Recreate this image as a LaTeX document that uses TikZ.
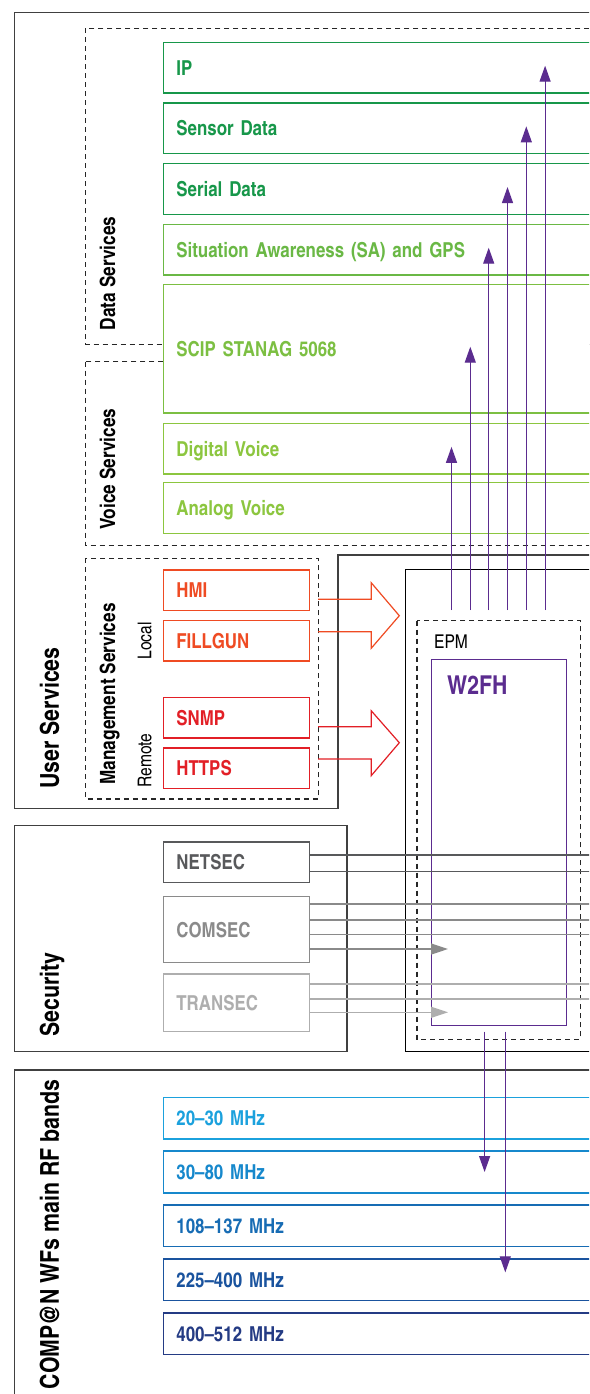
\documentclass[tikz,border=0pt]{standalone}
\usepackage{fontspec}
\setmainfont{texgyreheroscn}[Extension=.otf,UprightFont=*-regular,BoldFont=*-bold]
\usetikzlibrary{arrows.meta,calc}
\definecolor{cOut}{HTML}{404040}
\definecolor{cG1}{HTML}{17974A}
\definecolor{cG2}{HTML}{6AB845}
\definecolor{cG3}{HTML}{7CBF42}
\definecolor{cG4}{HTML}{8CC63F}
\definecolor{cPur}{HTML}{5B2C8F}
\definecolor{cLoc}{HTML}{EF4B23}
\definecolor{cRem}{HTML}{E21F26}
\definecolor{cB1}{HTML}{1BA1DD}
\definecolor{cB2}{HTML}{1688CC}
\definecolor{cB3}{HTML}{176CB4}
\definecolor{cB4}{HTML}{1A539E}
\definecolor{cB5}{HTML}{243B84}
\definecolor{cNet}{HTML}{58595B}
\definecolor{cCom}{HTML}{8A8A8A}
\definecolor{cTra}{HTML}{AEAEAE}
\tikzset{
  outer/.style={draw=cOut, line width=1.5pt},
  dashbox/.style={draw=black!85, line width=1.2pt, dash pattern=on 5pt off 4pt},
  sbox/.style={draw=#1, text=#1, fill=white, line width=1.4pt, anchor=north west,
    align=left, text width=430pt, inner xsep=13pt, inner ysep=0pt,
    text height=15pt, text depth=0pt, font=\bfseries\fontsize{20.6}{24}\selectfont},
  narrow/.style={text width=120.1pt},
  vlbl/.style={rotate=90, inner sep=0pt, text height=15pt, text depth=0pt,
    font=\bfseries\fontsize{21}{24}\selectfont},
  biglbl/.style={rotate=90, inner sep=0pt, text height=18.7pt, text depth=0pt,
    font=\bfseries\fontsize{26}{30}\selectfont},
  smlbl/.style={rotate=90, inner sep=0pt, text height=13.6pt, text depth=0pt,
    font=\fontsize{19}{22}\selectfont},
  parrow/.style={draw=cPur, line width=1.2pt, -{Triangle[length=16pt,width=11pt]}},
  blockarrow/.style={draw=#1, line width=1.2pt},
  secline/.style={draw=#1, line width=1.3pt},
  secarrow/.style={draw=#1, line width=1.3pt, -{Triangle[length=17pt,width=11pt]}},
}
\begin{document}
\begin{tikzpicture}[x=1pt,y=-1pt]
\useasboundingbox (0,0) rectangle (589,1394);
\fill[white] (0,0) rectangle (589,1394);
\clip (0,0) rectangle (589,1394);

% outer frames
\draw[outer] (14.3,12.7) -- (620,12.7) -- (620,555) -- (338.1,555) -- (338.1,808.3) -- (14.3,808.3) -- cycle;
\draw[outer] (14.3,825.7) rectangle (347.1,1051.7);
\draw[outer] (14.3,1070) rectangle (620,1420);
\draw[draw=black, line width=1.2pt] (405.7,569.3) rectangle (620,1051.7);

% dashed groups
\draw[dashbox] (85.6,28.3) rectangle (620,344.3);
\draw[dashbox] (85.6,361.7) rectangle (620,545.7);
\draw[dashbox] (85.6,558.3) rectangle (318.2,799);
\draw[dashbox] (417,620.7) rectangle (580.4,1039.3);

% service boxes
\node[sbox=cG1, minimum height=50.6pt] (ip) at (162.7,41.7) {IP};
\node[sbox=cG1, minimum height=50.7pt] (sensor) at (162.7,102.3) {Sensor Data};
\node[sbox=cG1, minimum height=50.7pt] (serial) at (162.7,163) {Serial Data};
\node[sbox=cG2, minimum height=50.6pt] (sa) at (162.7,223.7) {Situation Awareness (SA) and GPS};
\node[sbox=cG3, minimum height=128.6pt] (scip) at (162.7,283.7) {SCIP STANAG 5068};
\node[sbox=cG4, minimum height=50.3pt] (dv) at (162.7,423) {Digital Voice};
\node[sbox=cG4, minimum height=50.7pt] (av) at (162.7,482) {Analog Voice};

\node[sbox=cLoc, narrow, minimum height=40.7pt] (hmi) at (162.7,569.3) {HMI};
\node[sbox=cLoc, narrow, minimum height=40.3pt] (fillgun) at (162.7,620) {FILLGUN};
\node[sbox=cRem, narrow, minimum height=40.6pt] (snmp) at (162.7,696.7) {SNMP};
\node[sbox=cRem, narrow, minimum height=40.4pt] (https) at (162.7,747.3) {HTTPS};

\node[sbox=cNet, narrow, minimum height=40.4pt] (netsec) at (162.7,841.3) {NETSEC};
\node[sbox=cCom, narrow, minimum height=65.7pt] (comsec) at (162.7,896) {COMSEC};
\node[sbox=cTra, narrow, minimum height=57.4pt] (transec) at (162.7,973.3) {TRANSEC};

\node[sbox=cB1, minimum height=41.6pt] (b1) at (162.7,1096.7) {20--30 MHz};
\node[sbox=cB2, minimum height=42pt] (b2) at (162.7,1150.3) {30--80 MHz};
\node[sbox=cB3, minimum height=41.7pt] (b3) at (162.7,1204.3) {108--137 MHz};
\node[sbox=cB4, minimum height=41.7pt] (b4) at (162.7,1258.3) {225--400 MHz};
\node[sbox=cB5, minimum height=41.7pt] (b5) at (162.7,1312.3) {400--512 MHz};

% W2FH block
\node[draw=cPur, line width=1.3pt, anchor=north west, minimum width=135.2pt, minimum height=366pt, inner sep=0pt] (w2fh) at (430.9,659) {};
\node[anchor=west, inner sep=0pt, text height=13.6pt, text depth=0pt, font=\fontsize{19}{22}\selectfont] (epm) at (434,641.7) {EPM};
\node[anchor=west, inner sep=0pt, text height=18.7pt, text depth=0pt, text=cPur, font=\bfseries\fontsize{26}{30}\selectfont] (w2fhlbl) at (447,685.4) {W2FH};

% rotated labels
\node[vlbl] (dslbl) at (107.5,273.5) {Data Services};
\node[vlbl] (vslbl) at (107.5,469.3) {Voice Services};
\node[vlbl] (mslbl) at (107.5,694) {Management Services};
\node[smlbl] (loclbl) at (144.5,641) {Local};
\node[smlbl] (remlbl) at (144.5,760.5) {Remote};
\node[biglbl] (uslbl) at (49.4,718) {User Services};
\node[biglbl] (seclbl) at (49.4,994.7) {Security};
\node[biglbl] (complbl) at (49.4,1234.3) {COMP@N WFs main RF bands};

% management block arrows
\draw[blockarrow=cLoc] (318.2,599.3) -- (371.2,599.3) -- (371.2,582.7) -- (399.3,615.7) -- (371.2,648.3) -- (371.2,631.7) -- (318.2,631.7);
\draw[blockarrow=cRem] (318.2,726.7) -- (371.2,726.7) -- (371.2,710.7) -- (399.3,742.7) -- (371.2,775.7) -- (371.2,759) -- (318.2,759);

% purple upward arrows
\coordinate (u1) at (451.5,610);
\coordinate (u2) at (470.3,610);
\coordinate (u3) at (488.7,610);
\coordinate (u4) at (507.5,610);
\coordinate (u5) at (526.3,610);
\coordinate (u6) at (545.1,610);
\draw[parrow] (u1) -- ([yshift=2pt]u1 |- dv.center);
\draw[parrow] (u2) -- ([yshift=2pt]u2 |- scip.center);
\draw[parrow] (u3) -- ([yshift=2pt]u3 |- sa.center);
\draw[parrow] (u4) -- ([yshift=2pt]u4 |- serial.center);
\draw[parrow] (u5) -- ([yshift=2pt]u5 |- sensor.center);
\draw[parrow] (u6) -- ([yshift=2pt]u6 |- ip.center);

% purple downward arrows
\coordinate (d1) at (484.6,1031.7);
\coordinate (d2) at (505.3,1031.7);
\draw[parrow] (d1) -- (d1 |- b2.center);
\draw[parrow] (d2) -- ([yshift=7.5pt]d2 |- b4.center);

% security lines
\coordinate (R) at (620,0);
\coordinate (tip) at (448,0);
\draw[secline=cNet] (netsec.east |- 0,855) -- (R |- 0,855);
\draw[secline=cNet] (netsec.east |- 0,871.7) -- (R |- 0,871.7);
\draw[secline=cCom] (comsec.east |- 0,904) -- (R |- 0,904);
\draw[secline=cCom] (comsec.east |- 0,920) -- (R |- 0,920);
\draw[secline=cCom] (comsec.east |- 0,934.3) -- (R |- 0,934.3);
\draw[secarrow=cCom] (comsec.east |- 0,949) -- (tip |- 0,949);
\draw[secline=cTra] (transec.east |- 0,984) -- (R |- 0,984);
\draw[secline=cTra] (transec.east |- 0,999) -- (R |- 0,999);
\draw[secarrow=cTra] (transec.east |- 0,1012.3) -- (tip |- 0,1012.3);
\end{tikzpicture}
\end{document}
